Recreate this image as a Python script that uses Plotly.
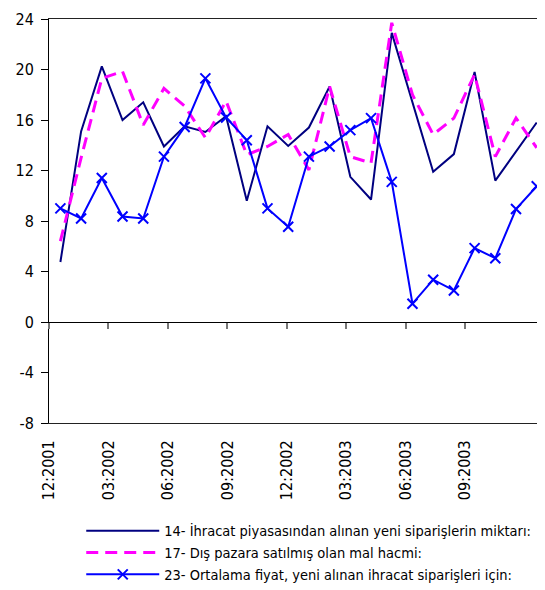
import plotly.graph_objects as go

# monthly survey series, 12:2001 .. 11:2003
months = ["12:2001", "01:2002", "02:2002", "03:2002", "04:2002", "05:2002",
          "06:2002", "07:2002", "08:2002", "09:2002", "10:2002", "11:2002",
          "12:2002", "01:2003", "02:2003", "03:2003", "04:2003", "05:2003",
          "06:2003", "07:2003", "08:2003", "09:2003", "10:2003", "11:2003"]

new_orders = [4.75, 15.1, 20.25, 16.0, 17.4, 13.9, 15.5, 15.05, 16.3, 9.6, 15.5, 13.95,
              15.4, 18.65, 11.5, 9.7, 22.9, 17.4, 11.9, 13.3, 19.8, 11.2, 13.5, 15.8]
export_volume = [6.4, 13.0, 19.3, 19.85, 15.6, 18.5, 17.1, 14.6, 17.5, 13.25, 13.9, 14.85,
                 12.05, 18.65, 13.1, 12.6, 23.7, 18.0, 14.85, 16.15, 19.6, 13.1, 16.15, 13.8]
avg_price = [9.0, 8.2, 11.4, 8.35, 8.2, 13.1, 15.45, 19.3, 16.2, 14.4, 9.0, 7.55,
             13.1, 13.9, 15.2, 16.15, 11.1, 1.45, 3.35, 2.5, 5.85, 5.05, 8.95, 10.75]

tick_labels = ["12:2001", "03:2002", "06:2002", "09:2002",
               "12:2002", "03:2003", "06:2003", "09:2003"]
y_ticks = [-8, -4, 0, 4, 8, 12, 16, 20, 24]

names = ["14- İhracat piyasasından alınan yeni siparişlerin miktarı:",
         "17- Dış pazara satılmış olan mal hacmi:",
         "23- Ortalama fiyat, yeni alınan ihracat siparişleri için:"]

FONT = "Tahoma, 'DejaVu Sans Condensed', 'DejaVu Sans', sans-serif"
LABEL_STEP = 2.87  # label spacing in category units, as in the original sheet
X_RANGE = [-0.55, 23.4]

x = list(range(len(months)))
tick_pos = [X_RANGE[0] + LABEL_STEP * i for i in range(len(tick_labels))]

fig = go.Figure()
# first two series on the bottom (labelled) axis, third on the zero-line axis
fig.add_trace(go.Scatter(x=x, y=new_orders, name=names[0], mode="lines",
                         line=dict(color="#000080", width=2)))
fig.add_trace(go.Scatter(x=x, y=export_volume, name=names[1], mode="lines",
                         line=dict(color="#FF00FF", width=3, dash="12px,7px")))
fig.add_trace(go.Scatter(x=x, y=avg_price, name=names[2], mode="lines+markers",
                         xaxis="x2",
                         line=dict(color="#0000FF", width=2),
                         marker=dict(symbol="x-thin", size=10,
                                     line=dict(color="#0000FF", width=2))))

fig.update_layout(
    width=537, height=582,
    margin=dict(l=41, r=0, t=11, b=167, autoexpand=False),
    paper_bgcolor="white", plot_bgcolor="white",
    font=dict(family=FONT, size=16, color="black"),
    showlegend=True,
    legend=dict(x=0.065, y=-0.227, xanchor="left", yanchor="top",
                font=dict(size=14.5), tracegroupgap=0, itemwidth=73,
                bgcolor="rgba(0,0,0,0)"),
    xaxis=dict(range=X_RANGE, anchor="y", side="bottom",
               showline=True, mirror=True, linecolor="#222", linewidth=1,
               tickmode="array", tickvals=tick_pos, ticktext=tick_labels,
               tickangle=-90, ticks="", ticklabelstandoff=10,
               tickfont=dict(size=16), showgrid=False, zeroline=False),
    xaxis2=dict(range=X_RANGE, overlaying="x", anchor="free", position=0.25,
                showline=True, linecolor="black", linewidth=1,
                tickmode="array", tickvals=tick_pos, ticks="outside",
                ticklen=6, tickcolor="#777", tickwidth=2,
                showticklabels=False, showgrid=False, zeroline=False),
    yaxis=dict(range=[-8, 24], tickvals=y_ticks, ticktext=[str(v) for v in y_ticks],
               showline=True, linecolor="black", linewidth=1, ticks="outside",
               ticklen=7, tickcolor="black", showgrid=False, zeroline=False,
               tickfont=dict(size=16), ticklabelstandoff=4),
)

fig.write_html("out.html")
